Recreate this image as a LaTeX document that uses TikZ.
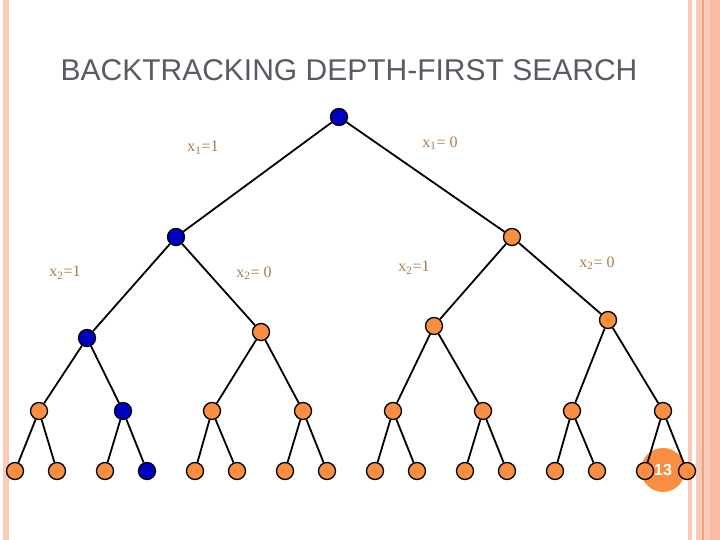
\documentclass[tikz,border=0pt]{standalone}
\usepackage{fontspec}
\setmainfont{Liberation Serif}
\setsansfont{Liberation Sans}
\usetikzlibrary{positioning}
\definecolor{myorange}{RGB}{248,142,68}
\definecolor{myblue}{RGB}{0,0,190}
\definecolor{mybrown}{RGB}{170,122,78}
\definecolor{mygray}{RGB}{90,90,98}
\definecolor{mypink}{RGB}{249,202,184}
\definecolor{mypeach}{RGB}{251,186,166}
\definecolor{myline}{RGB}{238,160,120}

\begin{document}
\begin{tikzpicture}[x=1pt, y=-1pt,
    vertex/.style={circle, draw=black, line width=1.3pt, minimum size=17pt, inner sep=0pt},
    onpath/.style={vertex, fill=myblue},
    offpath/.style={vertex, fill=myorange},
    branch/.style={line width=1.8pt, black},
    lbl/.style={text=mybrown, font=\fontsize{16}{18}\selectfont}]
    \useasboundingbox[fill=white] (0,0) rectangle (720,540);

    % 边框条纹
    \fill[mypink] (3,0) rectangle (9,540);
    \fill[mypink] (688,0) rectangle (692,540);
    \fill[mypink] (696,0) rectangle (720,540);
    \fill[mypeach] (710,0) rectangle (720,540);
    \fill[myline] (702,0) rectangle (703.5,540);

    % 标题
    \node[font=\sffamily\fontsize{30}{34}\selectfont, text=mygray] (title) at (349,70) {BACKTRACKING DEPTH-FIRST SEARCH};

    % 页码
    \node[circle, fill=myorange, minimum size=44pt, inner sep=0pt, text=white,
          font=\sffamily\bfseries\fontsize{16}{18}\selectfont] (pg) at (663,470) {13};

    % 树的结点
    \node[onpath] (r) at (339,117) {};
    \node[onpath] (a) at (176,237) {};
    \node[offpath] (b) at (512,237) {};
    \node[onpath] (aa) at (87,338) {};
    \node[offpath] (ab) at (261,332) {};
    \node[offpath] (ba) at (434,326) {};
    \node[offpath] (bb) at (608,320) {};
    \foreach \x/\s [count=\i] in {39/offpath, 123/onpath, 212/offpath, 303/offpath,
                                  393/offpath, 483/offpath, 572/offpath, 663/offpath}
        \node[\s] (l3-\i) at (\x,411) {};
    \foreach \x/\s [count=\i] in {15/offpath, 57/offpath, 105/offpath, 147/onpath,
                                  195/offpath, 237/offpath, 285/offpath, 327/offpath,
                                  375/offpath, 417/offpath, 465/offpath, 507/offpath,
                                  555/offpath, 597/offpath, 645/offpath, 687/offpath}
        \node[\s] (l4-\i) at (\x,471) {};

    % 边
    \foreach \p/\c in {r/a, r/b, a/aa, a/ab, b/ba, b/bb,
                       aa/l3-1, aa/l3-2, ab/l3-3, ab/l3-4,
                       ba/l3-5, ba/l3-6, bb/l3-7, bb/l3-8}
        \draw[branch] (\p) -- (\c);
    \foreach \i in {1,...,16} {
        \pgfmathtruncatemacro\p{(\i+1)/2}
        \draw[branch] (l3-\p) -- (l4-\i);
    }

    % 标注
    \node[lbl] (x1a) at (203,148) {x\textsubscript{1}=1};
    \node[lbl] (x1b) at (440,143) {x\textsubscript{1}= 0};
    \node[lbl] (x2a) at (65,273) {x\textsubscript{2}=1};
    \node[lbl] (x2b) at (254,273) {x\textsubscript{2}= 0};
    \node[lbl] (x2c) at (414,268) {x\textsubscript{2}=1};
    \node[lbl] (x2d) at (597,263) {x\textsubscript{2}= 0};
\end{tikzpicture}
\end{document}
